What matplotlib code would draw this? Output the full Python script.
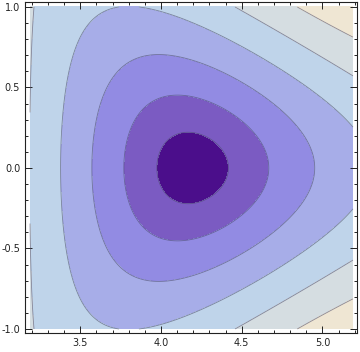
# Contour plot of the graphene band energy near the K point (trigonal warping).
import numpy as np
import matplotlib.pyplot as plt

# K point and window
k_center = 4*np.pi/3
half_width = 1.0
ky_range = [-1.0, 1.0]

# contour levels and fill colours (dark purple at the minimum -> beige)
levels = [0.191, 0.382, 0.573, 0.764, 0.955, 1.146]
fill_colors = ['#4B0E8B', '#7B5BC2', '#928BE3', '#A7ADE8', '#BFD4EA', '#D5DDE1', '#EFE6D3']

xticks = [3.5, 4.0, 4.5, 5.0]
yticks = [-1.0, -0.5, 0.0, 0.5, 1.0]
xtick_labels = ['3.5', '4.0', '4.5', '5.0']
ytick_labels = ['-1.0', '-0.5', '0.0', '0.5', '1.0']

kx = np.linspace(k_center - half_width, k_center + half_width, 400)
ky = np.linspace(ky_range[0], ky_range[1], 400)
KX, KY = np.meshgrid(kx, ky)
# |f(k)| for nearest neighbour tight binding
E = np.sqrt(np.abs(3 + 2*np.cos(KX) + 4*np.cos(KX/2)*np.cos(np.sqrt(3)*KY/2)))

fig = plt.figure(figsize=(3.6, 3.52), dpi=100)
ax = fig.add_axes([25/360, 1-333/352, 332/360, 331/352])

bounds = [E.min() - 1] + levels + [E.max() + 1]
ax.contourf(KX, KY, E, levels=bounds, colors=fill_colors)
ax.contour(KX, KY, E, levels=levels, colors='#4a4a6a', linewidths=0.6, alpha=0.6)

ax.set_xlim(kx[0] - 0.031, kx[-1] + 0.025)
ax.set_ylim(ky[0] - 0.025, ky[-1] + 0.031)

ax.set_xticks(xticks)
ax.set_xticklabels(xtick_labels)
ax.set_yticks(yticks)
ax.set_yticklabels(ytick_labels)
ax.set_xticks(np.arange(3.2, 5.25, 0.1), minor=True)
ax.set_yticks(np.arange(-1.0, 1.05, 0.1), minor=True)
ax.tick_params(which='both', direction='in', top=True, right=True, labelsize=7, colors='#222222', width=0.7)
ax.tick_params(which='major', length=5)
ax.tick_params(which='minor', length=2.5)
for s in ax.spines.values():
	s.set_linewidth(0.8)
	s.set_color('#222222')

fig.savefig('out.png', dpi=100)
